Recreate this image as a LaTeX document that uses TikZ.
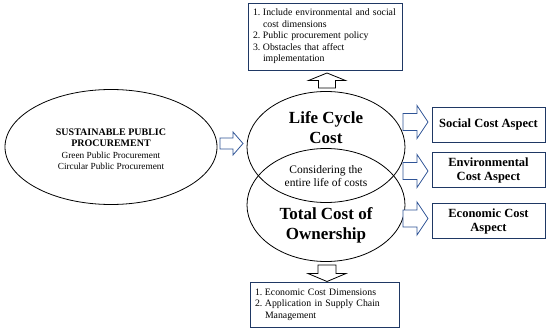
\documentclass[tikz,border=0pt]{standalone}
\usepackage{fontspec}
\setmainfont{Liberation Serif}
\usetikzlibrary{shapes.geometric,calc}
\definecolor{boxblue}{RGB}{31,56,100}
\definecolor{arrowblue}{RGB}{47,84,150}

\begin{document}
\begin{tikzpicture}[x=1pt,y=-1pt,
    oval/.style={draw, ellipse, inner sep=0pt, line width=0.8pt},
    aspectbox/.style={draw=boxblue, line width=1pt, minimum width=113pt, minimum height=35pt, inner sep=2pt,
        align=center, font=\fontsize{12.5}{14}\selectfont\bfseries},
    listbox/.style={draw=boxblue, line width=1pt, align=left, inner xsep=5pt, font=\fontsize{9.8}{11.5}\selectfont},
    bigtext/.style={font=\fontsize{17}{20}\selectfont\bfseries, align=center},
    arrowline/.style={draw=arrowblue},
    % block arrow: length, head length, shaft width, head width
    pics/blockarrow/.style n args={4}{code={
        \draw[arrowline, fill=white, line width=0.8pt, line join=miter]
            (0,-#3/2) -- (#1-#2,-#3/2) -- (#1-#2,-#4/2) -- (#1,0) -- (#1-#2,#4/2) -- (#1-#2,#3/2) -- (0,#3/2) -- cycle;
    }}]
    \useasboundingbox (0,0) rectangle (550,332);

    % ellipses
    \node[oval, minimum width=212pt, minimum height=115pt] (spp) at (111,147) {};
    \node[oval, minimum width=158pt, minimum height=111pt] (lcc) at (326,147) {};
    \node[oval, minimum width=158pt, minimum height=113pt] (tco) at (326,205) {};

    \node[font=\fontsize{9.3}{11.5}\selectfont, align=center] (spptext) at (111,149)
        {\textbf{\fontsize{10}{11.5}\selectfont SUSTAINABLE PUBLIC}\\\textbf{\fontsize{10}{11.5}\selectfont PROCUREMENT}\\
         Green Public Procurement\\Circular Public Procurement};
    \node[bigtext] (lcctext) at (326,128) {Life Cycle\\Cost};
    \node[font=\fontsize{11.5}{13}\selectfont, align=center] (overlap) at (326,176.5) {Considering the\\entire life of costs};
    \node[bigtext] (tcotext) at (326,225) {Total Cost of\\Ownership};

    % list boxes
    \node[listbox, text width=144pt, minimum height=67pt] (lccbox) at (325,36.5)
        {\makebox[10pt][l]{1.}Include environmental and social\\\hspace*{10pt}cost dimensions\\
         \makebox[10pt][l]{2.}Public procurement policy\\
         \makebox[10pt][l]{3.}Obstacles that affect\\\hspace*{10pt}implementation};
    \node[listbox, text width=139pt, minimum height=45pt] (tcobox) at (324.5,304.5)
        {\makebox[10pt][l]{1.}Economic Cost Dimensions\\
         \makebox[10pt][l]{2.}Application in Supply Chain\\\hspace*{10pt}Management};

    % aspect boxes
    \node[aspectbox] (social) at (488.5,124.5) {Social Cost Aspect};
    \node[aspectbox] (env) at (488.5,170) {Environmental\\Cost Aspect};
    \node[aspectbox] (econ) at (488.5,221) {Economic Cost\\Aspect};

    % block arrows
    \pic (a0) at (220,143.5) {blockarrow={23}{10}{11}{23}};
    \foreach \y/\n in {122/a1, 171/a2, 218.5/a3}
        \pic (\n) at (403,\y) {blockarrow={25}{11}{17}{33}};
    \pic[rotate=90, arrowline/.style={draw=black}] (a4) at (327,88) {blockarrow={15}{7.5}{17}{37}};
    \pic[rotate=-90, arrowline/.style={draw=black}] (a5) at (327,265) {blockarrow={16.5}{8}{18}{38}};
\end{tikzpicture}
\end{document}
